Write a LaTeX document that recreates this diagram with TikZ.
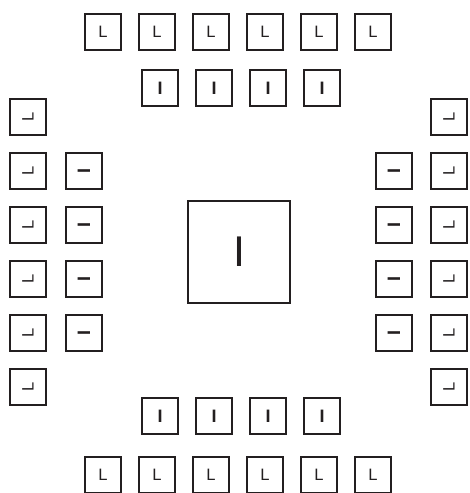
\documentclass[tikz,border=0pt]{standalone}
\usepackage{fontspec}
\setmainfont{Liberation Sans}
\definecolor{ink}{HTML}{231F20}
\begin{document}
\begin{tikzpicture}[x=1pt,y=-1pt,
  pad/.style={draw=ink, line width=2.4pt, minimum size=36.5pt, inner sep=0pt, fill=white, text=ink},
  lpad/.style={pad, font=\fontsize{16.5}{16.5}\selectfont},
  ipad/.style={pad, font=\bfseries\fontsize{18}{18}\selectfont},
  slpad/.style={lpad, rotate=90},
  sipad/.style={ipad, rotate=90},
  corebox/.style={draw=ink, line width=2.4pt, minimum size=102pt, inner sep=0pt, fill=white, text=ink, font=\fontsize{43}{43}\selectfont}]
\useasboundingbox (0,0) rectangle (469,493);
% top and bottom outer rows
\foreach \i/\x in {1/103,2/157,3/211,4/265,5/319,6/373}{
  \node[lpad] (t\i) at (\x,32) {L};
  \node[lpad] (b\i) at (\x,475) {L};
}
% top and bottom inner rows
\foreach \i/\x in {1/160,2/214,3/268,4/322}{
  \node[ipad] (u\i) at (\x,88) {I};
  \node[ipad] (c\i) at (\x,416) {I};
}
% left and right outer columns
\foreach \i/\y in {1/117,2/171,3/225,4/279,5/333,6/387}{
  \node[slpad] (l\i) at (28,\y) {L};
  \node[slpad] (r\i) at (449,\y) {L};
}
% left and right inner columns
\foreach \i/\y in {1/171,2/225,3/279,4/333}{
  \node[sipad] (m\i) at (84,\y) {I};
  \node[sipad] (n\i) at (394,\y) {I};
}
% central die
\node[corebox] (core) at (239,252) {I};
\end{tikzpicture}
\end{document}
